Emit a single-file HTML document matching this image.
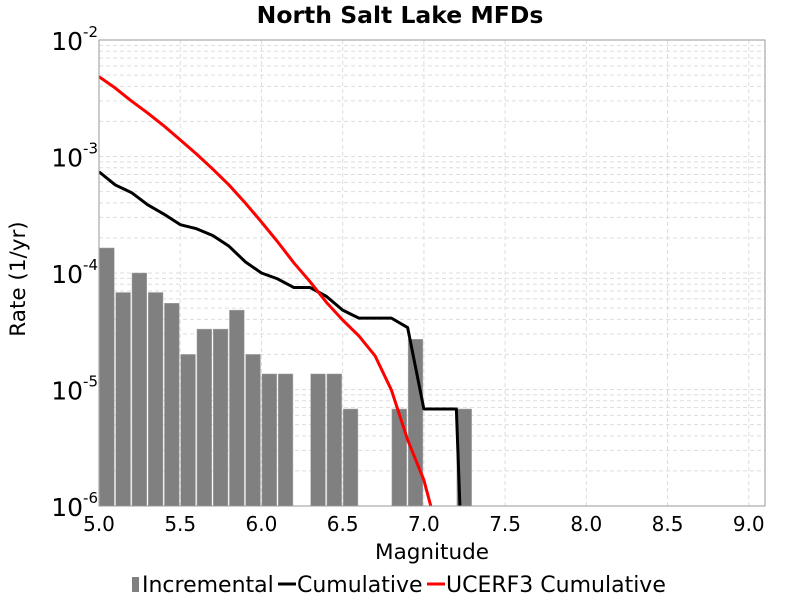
<!DOCTYPE html>
<html><head><meta charset="utf-8"><style>
html,body{margin:0;background:#fff;overflow:hidden;width:800px;height:600px;}
svg{display:block;}
svg text{font-family:"DejaVu Sans","Liberation Sans",sans-serif;}
</style></head><body>
<svg id="chart" width="800" height="600" xmlns="http://www.w3.org/2000/svg">
<rect x="0" y="0" width="800" height="600" fill="#fff"/>
<text x="400" y="23" text-anchor="middle" font-size="23.5" font-weight="bold">North Salt Lake MFDs</text>
<g id="grid"></g>
<g id="bars"></g>
<g id="lines"></g>
<rect x="99" y="40" width="666" height="466" fill="none" stroke="#999" stroke-width="1"/>
<g id="axes"></g>
<text x="432" y="559" text-anchor="middle" font-size="21.5">Magnitude</text>
<text transform="translate(25,279) rotate(-90)" text-anchor="middle" font-size="21.5">Rate (1/yr)</text>
<g>
<g><rect x="132" y="577" width="7" height="15" fill="#808080"/><text x="142" y="592" font-size="22">Incremental</text></g>
<g><line x1="278" y1="584" x2="296" y2="584" stroke="#000" stroke-width="3"/><text x="297" y="592" font-size="22">Cumulative</text></g>
<g><line x1="427" y1="584" x2="445" y2="584" stroke="#f00" stroke-width="3"/><text x="446" y="592" font-size="22">UCERF3 Cumulative</text></g>
</g>
</svg>
<script>
const incMags=[5.0,5.1,5.2,5.3,5.4,5.5,5.6,5.7,5.8,5.9,6.0,6.1,6.3,6.4,6.5,6.8,6.9,7.2];
const incVals=[1.64e-4,6.8e-5,1.0e-4,6.8e-5,5.5e-5,2.0e-5,3.3e-5,3.3e-5,4.8e-5,2.0e-5,1.36e-5,1.36e-5,1.36e-5,1.36e-5,6.8e-6,6.8e-6,2.7e-5,6.8e-6];
const cumMags=[5.0,5.1,5.2,5.3,5.4,5.5,5.6,5.7,5.8,5.9,6.0,6.1,6.2,6.3,6.4,6.5,6.6,6.7,6.8,6.9,7.0,7.1,7.2,7.3];
const cumVals=[7.4e-4,5.7e-4,4.9e-4,3.85e-4,3.2e-4,2.6e-4,2.4e-4,2.1e-4,1.7e-4,1.25e-4,1.0e-4,8.9e-5,7.5e-5,7.5e-5,6.3e-5,4.8e-5,4.1e-5,4.1e-5,4.1e-5,3.4e-5,6.8e-6,6.8e-6,6.8e-6,1e-9];
const ucMags=[5.0,5.1,5.2,5.3,5.4,5.5,5.6,5.7,5.8,5.9,6.0,6.1,6.2,6.3,6.4,6.5,6.6,6.7,6.8,6.9,7.0,7.1];
const ucVals=[4.84e-3,3.87e-3,2.99e-3,2.36e-3,1.83e-3,1.39e-3,1.05e-3,7.8e-4,5.7e-4,4.0e-4,2.74e-4,1.85e-4,1.22e-4,8.4e-5,5.6e-5,3.95e-5,2.88e-5,1.94e-5,9.9e-6,3.7e-6,1.67e-6,5.0e-7];
const xTicks=["5.0","5.5","6.0","6.5","7.0","7.5","8.0","8.5","9.0"];
const yExps=[-2,-3,-4,-5,-6];
const NS="http://www.w3.org/2000/svg";
const X0=99,X1=765,Y0=40,Y1=506,xMin=5.0,xMax=9.1,lMax=-2,lMin=-6;
function xs(m){return X0+(m-xMin)/(xMax-xMin)*(X1-X0);}
function ys(v){return Y0+(lMax-Math.log10(v))/(lMax-lMin)*(Y1-Y0);}
function mk(tag,attrs,parent){const e=document.createElementNS(NS,tag);for(const k in attrs)e.setAttribute(k,attrs[k]);parent.appendChild(e);return e;}
const grid=document.getElementById('grid'),bars=document.getElementById('bars'),lines=document.getElementById('lines'),axes=document.getElementById('axes');
for(let e=-6;e<-2;e++){for(let k=1;k<10;k++){const y=ys(k*Math.pow(10,e));
const g=mk('line',{x1:X0,x2:X1,y1:y,y2:y,stroke:'#ddd','stroke-width':1,'stroke-dasharray':'4,3'},grid);

}}
xTicks.forEach(t=>{const x=xs(parseFloat(t));
const g=mk('line',{x1:x,x2:x,y1:Y0,y2:Y1,stroke:'#ddd','stroke-width':1,'stroke-dasharray':'4,3'},grid);


const tx=mk('text',{x:x,y:531,'text-anchor':'middle','font-size':20},axes);tx.textContent=t;

});
yExps.forEach(e=>{const y=ys(Math.pow(10,e));
const t=mk('text',{x:98,y:y+10,'text-anchor':'end','font-size':25},axes);


const a=document.createElementNS(NS,'tspan');a.textContent='10';t.appendChild(a);
const b=document.createElementNS(NS,'tspan');b.setAttribute('dy','-13');b.setAttribute('font-size','15');b.textContent=String(e);t.appendChild(b);});
incMags.forEach((m,i)=>{const x=xs(m),x2=xs(m+0.1),y=ys(incVals[i]);
const r=mk('rect',{x:x+0.5,y:y,width:x2-x-1.5,height:Y1-y,fill:'#808080',stroke:'#aaa','stroke-width':0.5},bars);

});
const clip=mk('clipPath',{id:'pc'},document.getElementById('chart'));mk('rect',{x:X0,y:Y0,width:X1-X0,height:Y1-Y0},clip);
function line(ms,vs,col,name){const p=mk('polyline',{points:ms.map((m,i)=>xs(m)+','+ys(vs[i])).join(' '),fill:'none',stroke:col,'stroke-width':3,'stroke-linejoin':'round','clip-path':'url(#pc)'},lines);

}
line(cumMags,cumVals,'#000','cumulative-line');
line(ucMags,ucVals,'#f00','ucerf3-cumulative-line');
</script>
</body></html>
